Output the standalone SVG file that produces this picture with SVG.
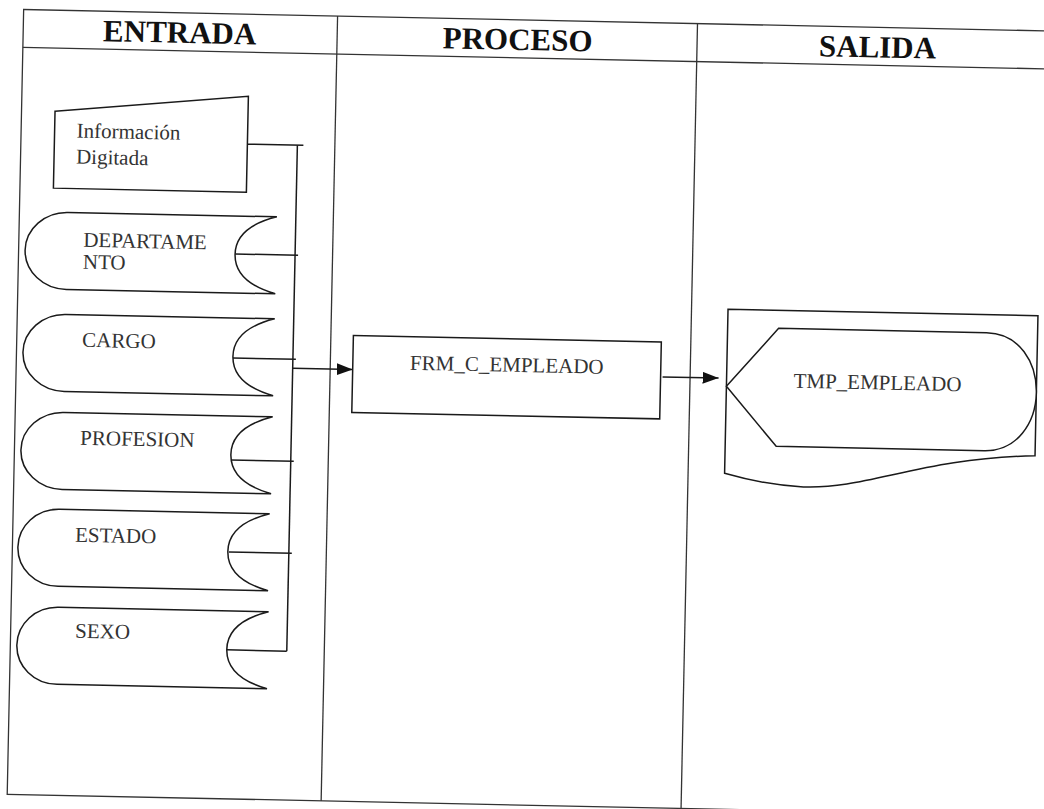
<svg xmlns="http://www.w3.org/2000/svg" width="1044" height="809" viewBox="0 0 1044 809">
  <style>
    .frame { fill: none; stroke: #333; stroke-width: 1.3; }
    .shape { fill: #fff; stroke: #1a1a1a; stroke-width: 1.5; stroke-linejoin: miter; }
    .conn { fill: none; stroke: #1a1a1a; stroke-width: 1.5; }
    .head { font-family: "Liberation Serif", "Times New Roman", serif; font-weight: bold; font-size: 31px; fill: #111; text-anchor: middle; }
    .lbl { font-family: "Liberation Serif", "Times New Roman", serif; font-size: 21px; fill: #333; }
    .mid { text-anchor: middle; }
  </style>
  <defs>
    <marker id="arrow" markerUnits="userSpaceOnUse" markerWidth="16" markerHeight="12" refX="16" refY="6" orient="auto">
      <path d="M0,0 L16,6 L0,12 Z" fill="#111"/>
    </marker>
  </defs>
  <rect width="1044" height="809" fill="#fff"/>
  <g transform="rotate(1.2 522 404)">
    <g id="frame">
      <rect class="frame" x="15.5" y="20" width="1045" height="785"/>
      <line class="frame" x1="15.5" y1="58" x2="1060.5" y2="58"/>
      <line class="frame" x1="329.5" y1="20" x2="329.5" y2="805"/>
      <line class="frame" x1="689.5" y1="20" x2="689.5" y2="805"/>
      <text class="head" x="172" y="50">ENTRADA</text>
      <text class="head" x="510" y="50">PROCESO</text>
      <text class="head" x="870" y="50">SALIDA</text>
    </g>
    <g id="connectors">
      <polyline class="conn" points="242,150 298,150"/>
      <line class="conn" x1="292" y1="150" x2="292" y2="656"/>
      <line class="conn" x1="232" y1="260" x2="295" y2="260"/>
      <line class="conn" x1="232" y1="364" x2="295" y2="364"/>
      <line class="conn" x1="232" y1="466" x2="295" y2="466"/>
      <line class="conn" x1="232" y1="558" x2="295" y2="558"/>
      <line class="conn" x1="232" y1="656" x2="292" y2="656"/>
      <line class="conn" x1="292" y1="373" x2="352" y2="373" marker-end="url(#arrow)"/>
      <line class="conn" x1="662" y1="374" x2="718" y2="374" marker-end="url(#arrow)"/>
    </g>
    <g id="informacion-digitada">
      <polygon class="shape" points="49,121 242,102 242,198 49,198"/>
      <text class="lbl" x="71" y="147">Información</text>
      <text class="lbl" x="71" y="173">Digitada</text>
    </g>
    <g id="departamento">
      <path class="shape" d="M273,222 L64,222 C40.8,222 22,239.2 22,260.5 C22,281.8 40.8,299 64,299 L273,299 C247,292 232,280 232,260.5 C232,241 247,229 273,222 Z"/>
      <text class="lbl" x="80" y="256">DEPARTAME</text>
      <text class="lbl" x="80" y="278">NTO</text>
    </g>
    <g id="cargo">
      <path class="shape" d="M273,324 L64,324 C40.8,324 22,341.2 22,362.5 C22,383.8 40.8,401 64,401 L273,401 C247,394 232,382 232,362.5 C232,343 247,331 273,324 Z"/>
      <text class="lbl" x="81" y="356">CARGO</text>
    </g>
    <g id="profesion">
      <path class="shape" d="M273,422 L64,422 C40.8,422 22,439.2 22,460.5 C22,481.8 40.8,499 64,499 L273,499 C247,492 232,480 232,460.5 C232,441 247,429 273,422 Z"/>
      <text class="lbl" x="81" y="454">PROFESION</text>
    </g>
    <g id="estado">
      <path class="shape" d="M272,519 L62,519 C38.8,519 21,536.2 21,557.5 C21,578.8 38.8,596 62,596 L272,596 C246,589 231,577 231,557.5 C231,538 246,526 272,519 Z"/>
      <text class="lbl" x="78" y="551">ESTADO</text>
    </g>
    <g id="sexo">
      <path class="shape" d="M273,617 L63,617 C39.8,617 22,634.2 22,655.5 C22,676.8 39.8,694 63,694 L273,694 C247,687 232,675 232,655.5 C232,636 247,624 273,617 Z"/>
      <text class="lbl" x="80" y="647">SEXO</text>
    </g>
    <g id="frm-c-empleado">
      <rect class="shape" x="352" y="339" width="308" height="77"/>
      <text class="lbl mid" x="506" y="372">FRM_C_EMPLEADO</text>
    </g>
    <g id="tmp-empleado">
      <path class="shape" d="M726,305 L1036,305 L1036,445 C920,450 870,482 805,481 C770,480 745,474 726,469 Z"/>
      <path class="shape" d="M726,382 L777,323 L985,323 C1018,323 1036,352 1036,382 C1036,412 1018,441 985,441 L777,441 Z"/>
      <text class="lbl mid" x="877" y="382">TMP_EMPLEADO</text>
    </g>
  </g>
</svg>
